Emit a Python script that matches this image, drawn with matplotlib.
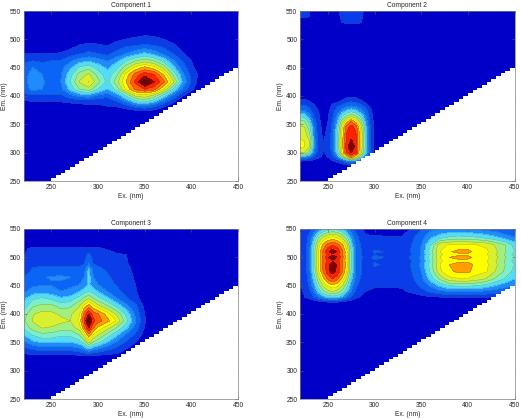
import matplotlib
matplotlib.use("Agg")
import matplotlib.pyplot as plt
import numpy as np

plt.rcParams['font.family'] = ['Liberation Sans', 'DejaVu Sans']

# one colour per contour band, lowest band first
band_colors = ['#0000c8', '#0a3ce8', '#0a64f5', '#1e8cff', '#50dcff', '#78f0d0',
               '#a0f080', '#d8f030', '#ffff00', '#ffa000', '#ff6000', '#ff2000',
               '#800000', '#600000']
band_edges = list(range(0, 15))

# boundary of the measured region, Em. = Ex.
mask_ex = list(range(220, 455, 5))

ex_1 = [220, 230, 240, 250, 260, 270, 280, 290, 300, 310, 320, 330, 340, 350, 360, 370, 380, 390, 400, 410, 420]
em_1 = [520, 505, 490, 475, 462, 450, 438, 425, 412, 402, 392, 382, 370]
z_1 = [
    [0, 0, 0, 0, 0, 0, 0, 0, 0, 0, 0, 0, 0, 0, 0, 0, 0, 0, 0, 0, 0],
    [0, 0, 0, 0, 0, 0, 0, 0, 0, 0, .4, .7, .9, 1.1, 1.0, .7, .3, 0, 0, 0, 0],
    [0, 0, 0, 0, .1, .5, 1.0, 1.3, 1.1, .9, 1.4, 1.7, 1.9, 2.1, 1.9, 1.6, 1.2, .5, 0, 0, 0],
    [1.0, 1.0, .95, .95, 1.1, 1.5, 1.9, 2.2, 2.0, 1.7, 2.3, 3.0, 3.6, 4.2, 3.6, 2.8, 2.0, 1.2, .4, 0, 0],
    [1.8, 2.0, 1.9, 2.0, 2.1, 2.8, 3.6, 3.9, 3.5, 2.9, 3.8, 5.0, 6.0, 6.6, 6.0, 4.8, 3.2, 2.0, 1.0, 0, 0],
    [2.3, 3.0, 2.3, 2.1, 2.6, 3.8, 5.2, 5.7, 4.6, 3.8, 4.8, 6.6, 8.3, 9.3, 8.5, 6.8, 4.4, 2.6, 1.3, .2, 0],
    [2.6, 3.4, 3.0, 2.3, 2.9, 4.6, 6.4, 7.2, 5.6, 4.4, 5.8, 8.4, 10.4, 11.6, 11.0, 9.0, 6.0, 3.4, 1.7, .6, 0],
    [2.7, 3.4, 3.2, 2.4, 3.0, 5.0, 7.1, 8.1, 6.3, 4.7, 6.6, 9.0, 11.2, 13.5, 12.0, 10.3, 7.5, 4.0, 1.9, .3, 0],
    [2.5, 3.3, 3.0, 2.3, 2.7, 4.3, 6.0, 6.6, 5.0, 4.0, 5.4, 8.2, 10.2, 11.0, 10.4, 8.0, 5.0, 2.8, 1.3, 0, 0],
    [1.8, 2.0, 2.0, 2.0, 1.9, 2.8, 3.6, 3.8, 3.0, 2.6, 3.6, 5.4, 7.6, 8.0, 7.0, 5.0, 3.0, 1.4, 0, 0, 0],
    [1.0, 1.1, 1.1, 1.2, 1.2, 1.5, 1.8, 1.8, 1.4, 1.4, 2.1, 3.3, 5.0, 5.7, 4.6, 3.0, 1.6, 0, 0, 0, 0],
    [.3, .3, .3, .3, .3, .3, .4, .6, .8, 1.0, 1.1, 1.6, 2.4, 2.8, 2.2, 1.2, .3, 0, 0, 0, 0],
    [0, 0, 0, 0, 0, 0, 0, 0, 0, 0, 0, 0, 0, 0, 0, 0, 0, 0, 0, 0, 0],
]

ex_2 = [220, 225, 230, 235, 240, 245, 250, 255, 260, 265, 270, 275, 280, 285, 290, 295, 300]
em_2 = [550, 540, 530, 520, 405, 395, 385, 375, 365, 355, 345, 330, 320, 310, 300, 292, 285, 275]
z_2 = [
    [1.5, 1.5, 1.1, .3, 0, 0, 0, 0, .6, 1.5, 1.8, 2.0, 1.8, 1.5, .6, 0, 0],
    [1.2, 1.2, 1.0, .2, 0, 0, 0, 0, .4, 1.4, 1.6, 1.7, 1.6, 1.4, .4, 0, 0],
    [0, 0, 0, 0, 0, 0, 0, 0, 0, 1.0, 1.3, 1.3, 1.3, 1.1, 0, 0, 0],
    [0, 0, 0, 0, 0, 0, 0, 0, 0, 0, 0, 0, 0, 0, 0, 0, 0],
    [0, 0, 0, 0, 0, 0, 0, 0, 0, 0, 0, 0, 0, 0, 0, 0, 0],
    [.9, .9, .6, 0, 0, 0, 0, 0, 0, .7, 1.2, 1.4, 1.2, .7, 0, 0, 0],
    [1.9, 1.9, 1.5, 1.0, .5, .2, .4, 1.1, 1.6, 2.0, 2.3, 2.5, 2.3, 2.0, 1.4, .6, .1],
    [3.0, 2.9, 2.3, 1.5, .9, .4, .7, 1.5, 2.4, 3.2, 4.0, 4.4, 4.0, 3.2, 2.4, 1.3, .4],
    [4.7, 4.5, 3.4, 1.9, 1.1, .5, .9, 1.8, 3.2, 4.8, 6.0, 6.6, 6.0, 4.8, 3.2, 1.6, .5],
    [6.4, 6.1, 4.4, 2.4, 1.2, .6, 1.0, 2.1, 3.8, 6.5, 8.5, 10.0, 8.5, 6.5, 3.8, 1.9, .6],
    [7.2, 7.0, 5.5, 3.0, 1.3, .7, 1.1, 2.3, 4.5, 7.8, 10.5, 11.5, 10.5, 7.8, 4.5, 2.1, .7],
    [7.7, 7.5, 6.5, 3.3, 1.4, .85, 1.2, 2.5, 5.0, 8.3, 11.2, 11.7, 11.2, 8.3, 5.0, 2.2, .8],
    [8.2, 8.0, 7.1, 3.5, 1.5, 1.0, 1.3, 2.5, 5.0, 8.5, 11.3, 12.2, 11.3, 8.0, 5.0, 2.2, .8],
    [8.2, 8.0, 7.0, 3.5, 1.5, 1.0, 1.3, 2.5, 5.0, 8.5, 11.5, 13.0, 11.5, 8.0, 5.0, 2.2, .8],
    [7.2, 7.0, 5.6, 3.0, 1.4, .95, 1.2, 2.3, 4.6, 8.0, 11.1, 12.0, 11.1, 7.6, 4.6, 2.0, .7],
    [3.4, 3.2, 2.6, 1.7, 1.1, .85, 1.0, 1.6, 3.0, 5.0, 7.5, 9.5, 7.5, 5.0, 3.0, 1.4, .4],
    [.9, .9, .8, .6, .5, .4, .6, .9, 1.2, 1.8, 2.8, 3.5, 2.8, 1.8, 1.0, .5, .2],
    [0, 0, 0, 0, 0, 0, 0, 0, 0, 0, 0, 0, 0, 0, 0, 0, 0],
]

ex_3 = [220, 230, 240, 250, 260, 270, 280, 285, 290, 295, 300, 310, 320, 330, 340, 350, 360]
em_3 = [525, 516, 505, 490, 478, 465, 452, 440, 428, 415, 400, 388, 376, 365, 352, 340, 330, 322]
z_3 = [
    [0, 0, 0, 0, 0, 0, 0, 0, 0, 0, 0, 0, 0, 0, 0, 0, 0],
    [.9, 1.1, 1.1, 1.1, 1.1, 1.1, 1.1, 1.2, 1.3, 1.2, 1.1, .9, .5, .1, 0, 0, 0],
    [.9, 1.5, 1.5, 1.5, 1.5, 1.5, 1.5, 1.6, 2.2, 1.6, 1.5, 1.3, 1.1, 1.0, .3, 0, 0],
    [1.1, 1.8, 1.8, 1.8, 1.8, 1.8, 1.8, 1.9, 2.8, 1.9, 1.8, 1.6, 1.3, 1.1, .6, 0, 0],
    [1.5, 2.1, 2.2, 2.2, 2.2, 2.2, 2.2, 2.6, 4.2, 2.6, 2.2, 1.9, 1.5, 1.2, .8, 0, 0],
    [1.9, 2.6, 2.9, 3.1, 3.2, 3.0, 2.7, 3.0, 4.4, 3.0, 2.7, 2.1, 1.7, 1.3, .9, .1, 0],
    [2.2, 2.8, 2.9, 2.9, 2.8, 2.8, 3.0, 3.3, 4.2, 3.4, 3.0, 2.4, 1.9, 1.4, 1.0, .3, 0],
    [2.8, 3.4, 3.6, 3.4, 3.0, 3.2, 3.9, 4.6, 5.0, 4.6, 3.9, 3.0, 2.3, 1.6, 1.1, .4, 0],
    [3.6, 4.8, 5.1, 4.7, 4.1, 4.4, 5.4, 6.2, 6.8, 6.0, 5.3, 4.2, 3.0, 2.1, 1.3, .5, 0],
    [4.3, 5.8, 6.2, 6.2, 5.5, 5.7, 6.9, 8.2, 9.3, 8.2, 7.2, 6.0, 4.6, 3.3, 2.2, .7, 0],
    [5.5, 6.9, 7.4, 7.3, 6.8, 6.8, 7.9, 10.3, 12.0, 10.5, 10.0, 8.5, 6.8, 4.8, 2.8, 1.0, 0],
    [5.8, 7.1, 7.8, 7.6, 7.3, 7.0, 8.2, 11.0, 13.5, 11.2, 10.5, 9.3, 7.9, 5.4, 3.1, 1.1, 0],
    [5.2, 6.5, 7.1, 6.9, 6.5, 6.4, 7.6, 9.8, 12.0, 10.0, 8.8, 7.5, 6.0, 4.3, 2.6, .9, 0],
    [4.2, 5.3, 5.9, 5.8, 5.4, 5.4, 6.2, 7.8, 10.0, 8.2, 7.3, 5.8, 4.4, 3.0, 1.9, .6, 0],
    [3.0, 3.9, 4.4, 4.4, 4.2, 4.2, 4.8, 5.8, 7.8, 6.2, 5.6, 4.2, 3.0, 2.0, 1.1, .3, 0],
    [1.8, 2.3, 2.7, 2.7, 2.6, 2.6, 3.0, 3.5, 4.4, 3.6, 3.3, 2.5, 1.8, 1.1, .5, 0, 0],
    [1.0, 1.2, 1.3, 1.3, 1.3, 1.3, 1.5, 1.7, 1.9, 1.7, 1.5, 1.2, 1.0, .5, 0, 0, 0],
    [0, 0, 0, 0, 0, 0, 0, 0, 0, 0, 0, 0, 0, 0, 0, 0, 0],
]

ex_4 = [220, 225, 230, 235, 240, 245, 250, 255, 260, 265, 270, 275, 280, 290, 300, 310, 320, 330, 340, 350, 360, 370, 380, 390, 400, 410, 420, 430, 440, 450]
em_4 = [550, 535, 522, 510, 505, 500, 494, 487, 475, 462, 450, 440, 430, 420]
z_4 = [
    [.9, 1.2, 1.6, 2.4, 3.2, 4.0, 4.6, 5.0, 4.6, 4.0, 3.2, 2.4, 1.7, .8, .6, .5, .4, .5, 1.1, 1.9, 2.7, 3.0, 3.1, 3.2, 3.0, 2.9, 2.6, 2.4, 2.0, 1.8],
    [1.0, 1.4, 2.3, 4.0, 6.0, 7.2, 8.0, 8.3, 8.0, 7.0, 5.5, 3.6, 2.3, 1.1, 1.1, 1.1, 1.05, 1.1, 1.8, 2.6, 3.8, 4.6, 5.2, 5.4, 5.3, 5.1, 4.7, 4.2, 3.6, 3.0],
    [1.1, 1.5, 2.6, 5.0, 7.6, 9.3, 10.4, 10.9, 10.4, 9.3, 7.4, 4.5, 2.7, 1.2, 1.6, 1.4, 1.1, 1.3, 2.0, 3.0, 5.0, 7.7, 8.1, 8.2, 8.2, 8.0, 7.8, 6.8, 6.0, 4.6],
    [1.2, 1.6, 2.7, 5.5, 8.2, 10.3, 11.8, 12.6, 11.8, 10.4, 8.4, 5.0, 3.0, 1.4, 2.1, 2.0, 1.2, 1.5, 2.1, 3.1, 5.5, 8.0, 8.9, 9.3, 9.3, 8.6, 8.2, 7.2, 6.1, 5.0],
    [1.2, 1.6, 2.7, 5.4, 8.1, 10.1, 11.3, 11.8, 11.3, 10.2, 8.3, 4.9, 2.9, 1.4, 1.9, 1.8, 1.2, 1.5, 2.0, 3.0, 5.3, 7.8, 8.5, 8.7, 8.7, 8.4, 8.1, 7.0, 5.9, 4.6],
    [1.2, 1.6, 2.7, 5.5, 8.2, 10.3, 11.8, 12.8, 11.9, 10.5, 8.4, 5.0, 3.0, 1.5, 2.2, 2.0, 1.2, 1.5, 2.2, 3.2, 5.6, 8.0, 9.0, 9.4, 9.3, 8.6, 8.3, 7.3, 6.1, 5.1],
    [1.2, 1.6, 2.7, 5.4, 8.1, 10.1, 11.3, 11.8, 11.3, 10.2, 8.3, 4.9, 2.9, 1.4, 1.9, 1.8, 1.2, 1.5, 2.0, 3.0, 5.3, 7.8, 8.5, 8.7, 8.7, 8.4, 8.1, 7.0, 5.9, 4.6],
    [1.2, 1.6, 2.7, 5.5, 8.2, 10.3, 11.7, 12.7, 11.8, 10.4, 8.4, 5.0, 3.0, 1.4, 2.1, 1.9, 1.2, 1.5, 2.1, 3.2, 5.5, 8.0, 9.0, 9.4, 9.4, 8.6, 8.2, 7.2, 6.0, 5.0],
    [1.1, 1.5, 2.6, 5.2, 8.0, 10.1, 11.6, 12.5, 11.7, 10.2, 8.2, 4.8, 2.9, 1.4, 1.7, 1.6, 1.2, 1.4, 2.0, 3.0, 5.2, 7.8, 8.8, 9.2, 9.2, 8.4, 8.1, 6.9, 5.8, 4.6],
    [1.0, 1.4, 2.4, 4.4, 6.8, 8.6, 10.2, 11.0, 10.2, 8.8, 6.8, 4.2, 2.6, 1.2, 1.3, 1.2, 1.1, 1.2, 1.8, 2.7, 4.4, 6.2, 7.7, 7.9, 7.9, 7.5, 6.9, 5.8, 4.9, 4.0],
    [.9, 1.3, 2.1, 3.6, 5.6, 7.2, 8.2, 8.7, 8.2, 7.2, 5.4, 3.5, 2.2, 1.1, 1.05, 1.05, 1.05, 1.1, 1.5, 2.2, 3.2, 4.2, 5.0, 5.2, 5.2, 5.0, 4.6, 3.9, 3.4, 3.0],
    [.8, 1.1, 1.7, 2.9, 4.4, 5.8, 6.7, 7.1, 6.7, 5.8, 4.3, 2.9, 1.8, 1.0, .9, .85, .85, .9, 1.2, 1.6, 2.2, 2.8, 3.0, 3.1, 3.1, 3.0, 2.8, 2.5, 2.2, 2.0],
    [.7, 1.0, 1.3, 2.0, 2.9, 3.7, 4.3, 4.6, 4.3, 3.7, 2.7, 1.9, 1.3, .6, .4, .3, .3, .4, .5, .7, .9, 1.0, 1.1, 1.2, 1.2, 1.2, 1.1, 1.1, 1.0, 1.0],
    [0, 0, .1, .2, .3, .5, .6, .7, .6, .5, .3, .2, 0, 0, 0, 0, 0, 0, 0, 0, 0, 0, 0, 0, 0, 0, 0, 0, 0, 0],
]

titles = ['Component 1', 'Component 2', 'Component 3', 'Component 4']
ex_ticks = [250, 300, 350, 400, 450]
em_ticks = [250, 300, 350, 400, 450, 500, 550]

W, H = 521, 418
boxes = [(23.5, 11), (300, 11), (23.5, 229), (300, 229)]
ax_w, ax_h = 214.5, 170

fig = plt.figure(figsize=(W/100, H/100), dpi=100)

for i, (ex, em, z) in enumerate([(ex_1, em_1, z_1), (ex_2, em_2, z_2), (ex_3, em_3, z_3), (ex_4, em_4, z_4)]):
    left, top = boxes[i]
    ax = fig.add_axes([left/W, 1 - (top + ax_h)/H, ax_w/W, ax_h/H])
    ax.set_facecolor(band_colors[0])
    ax.contourf(ex, em, z, levels=band_edges, colors=band_colors)
    ax.contour(ex, em, z, levels=band_edges[1:], colors='#404040', linewidths=0.25, alpha=0.6)
    # white triangle below the Em. = Ex. line
    ax.fill_between(mask_ex, 250, mask_ex, step='pre', color='white', lw=0, zorder=2)

    ax.set_xlim(220, 450)
    ax.set_ylim(250, 550)
    ax.set_xticks(ex_ticks)
    ax.set_yticks(em_ticks)
    ax.tick_params(direction='in', top=True, right=True, length=2, width=0.4, color='#606060',
                   labelsize=4.8, labelcolor='#262626', pad=2)
    for s in ax.spines.values():
        s.set_linewidth(0.5)
        s.set_color('#808080')
    ax.set_xlabel('Ex. (nm)', fontsize=4.8, color='#262626', labelpad=1.5)
    ax.set_ylabel('Em. (nm)', fontsize=4.8, color='#262626', labelpad=1.5)
    ax.set_title(titles[i], fontsize=4.8, color='#262626', pad=3)

plt.savefig('out.png', dpi=100)
